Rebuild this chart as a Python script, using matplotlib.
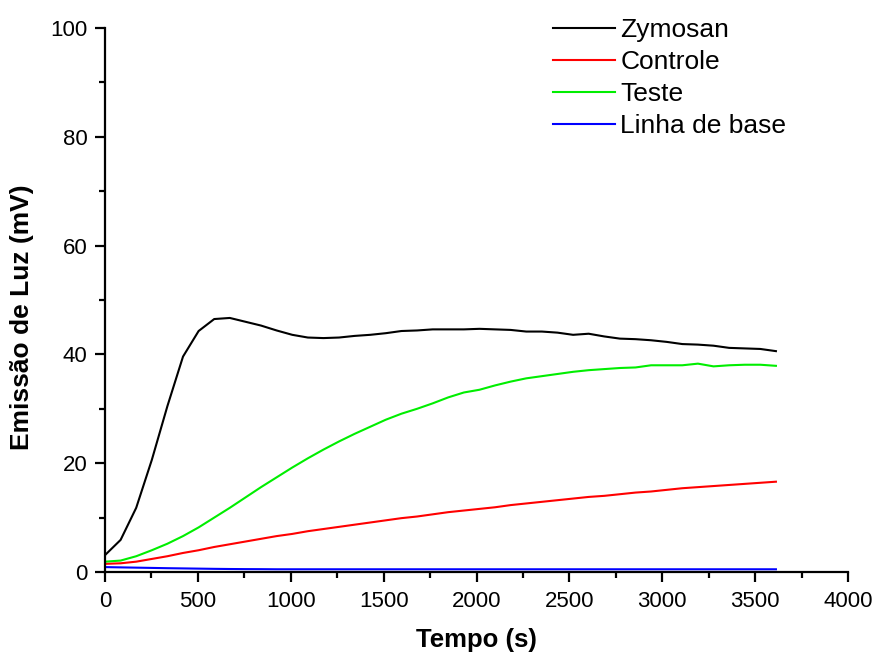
import numpy as np
import matplotlib
matplotlib.use("Agg")
from matplotlib import pyplot as plt
from matplotlib.ticker import MultipleLocator

plt.rcParams['font.family'] = ['Liberation Sans', 'DejaVu Sans']

# time of each reading (s)
tempo = [0, 84, 168, 252, 336, 420, 504, 588, 672, 756, 840, 924, 1008, 1092,
         1176, 1260, 1344, 1428, 1512, 1596, 1680, 1764, 1848, 1932, 2016, 2100,
         2184, 2268, 2352, 2436, 2520, 2604, 2688, 2772, 2856, 2940, 3024, 3108,
         3192, 3276, 3360, 3444, 3528, 3612]

zymosan = [3.1, 5.9, 11.8, 20.6, 30.5, 39.6, 44.3, 46.5, 46.7, 46.0, 45.3, 44.4,
           43.6, 43.1, 43.0, 43.1, 43.4, 43.6, 43.9, 44.3, 44.4, 44.6, 44.6, 44.6,
           44.7, 44.6, 44.5, 44.2, 44.2, 44.0, 43.6, 43.8, 43.3, 42.9, 42.8, 42.6,
           42.3, 41.9, 41.8, 41.6, 41.2, 41.1, 41.0, 40.6]

controle = [1.5, 1.6, 1.9, 2.4, 2.9, 3.5, 4.0, 4.6, 5.1, 5.6, 6.1, 6.6, 7.0, 7.5,
            7.9, 8.3, 8.7, 9.1, 9.5, 9.9, 10.2, 10.6, 11.0, 11.3, 11.6, 11.9, 12.3,
            12.6, 12.9, 13.2, 13.5, 13.8, 14.0, 14.3, 14.6, 14.8, 15.1, 15.4, 15.6,
            15.8, 16.0, 16.2, 16.4, 16.6]

teste = [1.9, 2.1, 2.9, 4.0, 5.2, 6.6, 8.2, 10.0, 11.8, 13.7, 15.6, 17.4, 19.2,
         20.9, 22.5, 24.0, 25.4, 26.7, 28.0, 29.1, 30.0, 31.0, 32.1, 33.0, 33.5,
         34.3, 35.0, 35.6, 36.0, 36.4, 36.8, 37.1, 37.3, 37.5, 37.6, 38.0, 38.0,
         38.0, 38.3, 37.8, 38.0, 38.1, 38.1, 37.9]

linha_base = [0.9, 0.85, 0.8, 0.75, 0.7, 0.66, 0.62, 0.58, 0.55, 0.53, 0.52, 0.5,
              0.5, 0.5, 0.5, 0.5, 0.5, 0.5, 0.5, 0.5, 0.5, 0.5, 0.5, 0.5, 0.5, 0.5,
              0.5, 0.5, 0.5, 0.5, 0.5, 0.5, 0.5, 0.5, 0.5, 0.5, 0.5, 0.5, 0.5, 0.5,
              0.5, 0.5, 0.5, 0.5]

series = [('Zymosan', zymosan, 'black'),
          ('Controle', controle, '#ff0000'),
          ('Teste', teste, '#00ee00'),
          ('Linha de base', linha_base, '#0000ff')]

fig = plt.figure(figsize=(8.75, 6.56), dpi=100)
ax = fig.add_axes([105/875, 1 - 572/656, 743/875, 544/656])

for nome, valores, cor in series:
    ax.plot(tempo, valores, color=cor, lw=1.5, label=nome)

ax.set_xlim(0, 4000)
ax.set_ylim(0, 100)
ax.xaxis.set_major_locator(MultipleLocator(500))
ax.xaxis.set_minor_locator(MultipleLocator(250))
ax.yaxis.set_major_locator(MultipleLocator(20))
ax.yaxis.set_minor_locator(MultipleLocator(10))

for lado in ['top', 'right']:
    ax.spines[lado].set_visible(False)
for lado in ['left', 'bottom']:
    ax.spines[lado].set_linewidth(1.6)

ax.tick_params(which='major', direction='out', length=7.5, width=1.6, labelsize=16, pad=5)
ax.tick_params(which='minor', direction='out', length=4, width=1.6)
ax.tick_params(axis='x', which='major', pad=6)

ax.set_xlabel('Tempo (s)', fontsize=18.5, fontweight='bold', labelpad=12)
ax.set_ylabel('Emissão de Luz (mV)', fontsize=19, fontweight='bold')
# y label sits a little below the axis centre
ax.yaxis.set_label_coords(-0.096, 0.469)

ax.legend(loc='upper left', bbox_to_anchor=(553/875, 1 - 18/656),
          bbox_transform=fig.transFigure, frameon=False, fontsize=19,
          handlelength=2.35, handletextpad=0.2, labelspacing=0.3,
          borderpad=0, borderaxespad=0)

fig.savefig('out.png', dpi=100)
